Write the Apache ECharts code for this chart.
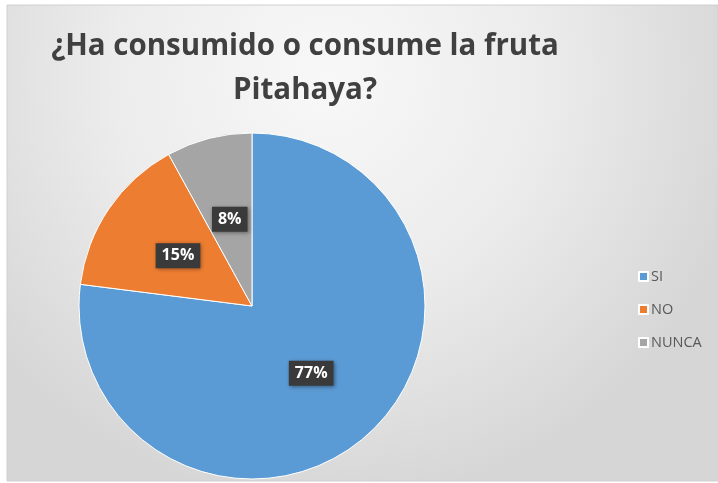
<!DOCTYPE html>
<html><head><meta charset="utf-8">
<script src="https://cdn.jsdelivr.net/npm/echarts@6/dist/echarts.min.js"></script>
<style>html,body{margin:0;padding:0;background:#fff}#c{width:718px;height:483px}</style>
</head><body><div id="c"></div>
<script>
const categories = ['SI', 'NO', 'NUNCA'];
const values = [77, 15, 8];
const colors = ['#5B9BD5', '#ED7D31', '#A5A5A5'];
const titleText = '¿Ha consumido o consume la fruta\nPitahaya?';

const chart = echarts.init(document.getElementById('c'));
chart.setOption({
  animation: false,
  graphic: [{
    type: 'rect', z: -10, silent: true,
    shape: { x: 7, y: 5, width: 711, height: 476 },
    style: {
      fill: new echarts.graphic.RadialGradient(0.45, 0.15, 0.9, [
        { offset: 0, color: '#f8f8f8' },
        { offset: 0.5, color: '#ececec' },
        { offset: 1, color: '#d6d6d6' }
      ]),
      stroke: '#d0d0d0', lineWidth: 1
    }
  }],
  title: {
    text: titleText,
    left: 300, top: 20, textAlign: 'center',
    textStyle: { fontFamily: 'Open Sans', fontWeight: 'bold', fontSize: 29.5, color: '#404040', lineHeight: 44 }
  },
  legend: {
    orient: 'vertical', left: 633, top: 264, itemGap: 18,
    itemWidth: 9, itemHeight: 9, icon: 'rect',
    data: categories,
    textStyle: { fontFamily: 'Open Sans', fontSize: 14.5, color: '#595959', padding: [0, 0, 0, -2] }
  },
  series: [{
    type: 'pie',
    center: [252, 306], radius: 173,
    startAngle: 90, clockwise: true,
    data: categories.map((c, i) => ({ name: c, value: values[i], itemStyle: { color: colors[i] } })),
    itemStyle: { borderColor: '#ffffff', borderWidth: 1 },
    label: {
      position: 'inside',
      formatter: p => p.value + '%',
      color: '#ffffff', fontFamily: 'Open Sans', fontWeight: 'bold', fontSize: 16,
      backgroundColor: '#3a3a3a', padding: [5, 6, 4, 6],
      shadowColor: 'rgba(0,0,0,0.4)', shadowBlur: 4, shadowOffsetX: 1, shadowOffsetY: 1
    },
    labelLine: { show: false }
  }]
});
</script></body></html>
